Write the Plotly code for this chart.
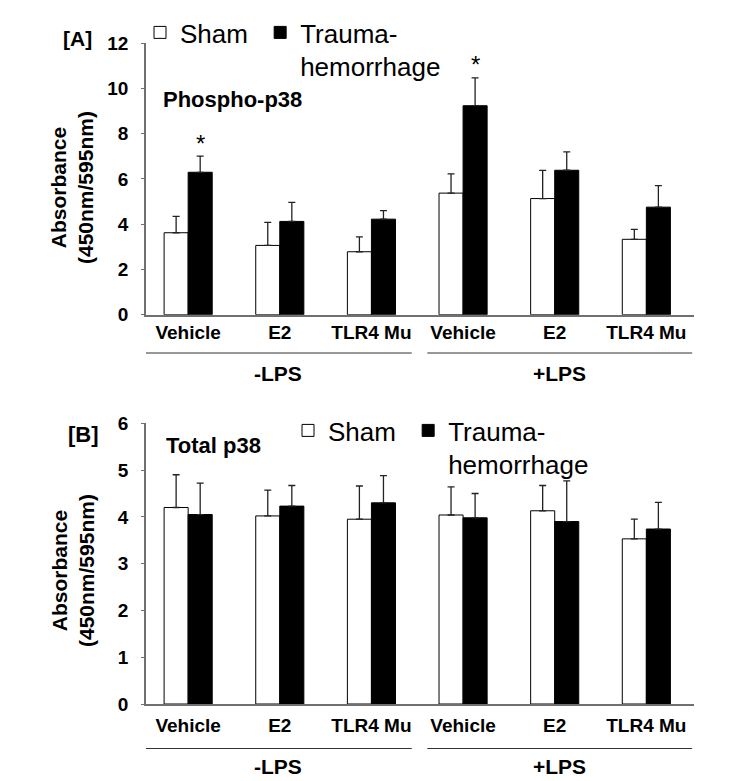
import plotly.graph_objects as go

# ---------------- data ----------------
categories = ["Vehicle", "E2", "TLR4 Mu", "Vehicle", "E2", "TLR4 Mu"]
groups = ["-LPS", "+LPS"]
series_names = ["Sham\u00a0", "Trauma-<br>hemorrhage"]

phospho_sham = [3.62, 3.06, 2.78, 5.37, 5.13, 3.33]
phospho_sham_err = [0.72, 1.02, 0.66, 0.85, 1.24, 0.44]
phospho_th = [6.29, 4.12, 4.22, 9.23, 6.38, 4.75]
phospho_th_err = [0.71, 0.84, 0.38, 1.23, 0.81, 0.95]
phospho_sig = [0, 3]  # indices marked with *

total_sham = [4.20, 4.02, 3.95, 4.04, 4.13, 3.53]
total_sham_err = [0.70, 0.55, 0.71, 0.60, 0.54, 0.42]
total_th = [4.05, 4.23, 4.30, 3.98, 3.90, 3.74]
total_th_err = [0.67, 0.44, 0.58, 0.52, 0.87, 0.57]

FONT = "Liberation Sans, Arial, sans-serif"
PAGE_W, PAGE_H = 749, 781
OFF = 8  # default body margin of the html page
W, H = PAGE_W - 2 * OFF, PAGE_H - OFF
AXIS_GRAY = "#707070"
BARGAP = 0.475

xs = list(range(len(categories)))


def px(x):
    return (x - OFF) / W


def py(y):
    return 1 - (y - OFF) / H


fig = go.Figure()


def add_bars(xaxis, yaxis, sham, sham_err, th, th_err, legend):
    fig.add_trace(go.Bar(
        x=xs, y=sham, name=series_names[0], xaxis=xaxis, yaxis=yaxis,
        marker=dict(color="white", line=dict(color="black", width=1)),
        error_y=dict(type="data", array=sham_err, arrayminus=[0] * len(sham),
                     symmetric=False, color="#222", thickness=1.3, width=3.5),
        legend=legend, offsetgroup="sham",
    ))
    fig.add_trace(go.Bar(
        x=xs, y=th, name=series_names[1], xaxis=xaxis, yaxis=yaxis,
        marker=dict(color="black", line=dict(color="black", width=1)),
        error_y=dict(type="data", array=th_err, arrayminus=[0] * len(th),
                     symmetric=False, color="#222", thickness=1.3, width=3.5),
        legend=legend, offsetgroup="th",
    ))


add_bars("x", "y", phospho_sham, phospho_sham_err, phospho_th, phospho_th_err, "legend")
add_bars("x2", "y2", total_sham, total_sham_err, total_th, total_th_err, "legend2")

xdom = [px(146), px(694)]
xrange_ = [-0.46, 5.52]
common_x = dict(
    domain=xdom, range=xrange_, tickmode="array", tickvals=xs, ticktext=categories,
    showline=True, linecolor=AXIS_GRAY, linewidth=1.5, ticks="", showgrid=False,
    zeroline=False, automargin=False,
    tickfont=dict(family=FONT, size=19, color="black", weight="bold"),
)
common_y = dict(
    showline=True, linecolor=AXIS_GRAY, linewidth=1.5, ticks="outside", ticklen=3,
    tickcolor=AXIS_GRAY, showgrid=False, zeroline=False, ticklabelstandoff=9,
    automargin=False,
    tickfont=dict(family=FONT, size=19, color="black", weight="bold"),
)

legend_common = dict(orientation="h", xanchor="left", yanchor="top", valign="top",
                     bgcolor="rgba(0,0,0,0)", itemclick=False, itemdoubleclick=False,
                     font=dict(family=FONT, size=26, color="black"))

fig.update_layout(
    template="none",
    width=W, height=H, margin=dict(l=0, r=0, t=0, b=0, autoexpand=False),
    paper_bgcolor="white", plot_bgcolor="white",
    barmode="group", bargap=BARGAP, bargroupgap=0,
    xaxis=dict(common_x, anchor="y", ticklabelstandoff=0),
    yaxis=dict(common_y, domain=[py(314.7), py(43)], range=[0, 12], dtick=2, anchor="x"),
    xaxis2=dict(common_x, anchor="y2", ticklabelstandoff=3),
    yaxis2=dict(common_y, domain=[py(704), py(423.3)], range=[0, 6], dtick=1, anchor="x2"),
    legend=dict(legend_common, x=px(140), y=py(9)),
    legend2=dict(legend_common, x=px(288), y=py(407)),
)

annotations = []


def txt(text, x, y, size, bold=True, xanchor="center", **kw):
    d = dict(text=text, x=x, y=y, xref=kw.pop("xref", "paper"), yref=kw.pop("yref", "paper"),
             xanchor=xanchor, yanchor="middle", showarrow=False,
             font=dict(family=FONT, size=size, color="black",
                       weight="bold" if bold else "normal"))
    d.update(kw)
    annotations.append(d)


# panel letters and titles
txt("[A]", px(77), py(39), 21)
txt("[B]", px(83), py(434.5), 22)
txt("Phospho-p38", px(161), py(99), 22, xanchor="left")
txt("Total p38", px(164), py(445), 22, xanchor="left")
# y titles
for cx, cy in [(72, 188), (73, 571)]:
    txt("Absorbance<br>(450nm/595nm)", px(cx), py(cy), 21, textangle=-90)
# significance markers
half_bar = (1 - BARGAP) / 4
for i in phospho_sig:
    txt("*", xs[i] + half_bar, phospho_th[i] + phospho_th_err[i] + 0.58, 24, bold=False,
        xref="x", yref="y")

# group brackets
shapes = []
group_spans = [(-0.49, 2.44), (2.61, 5.50)]
for (xa, ya_line, ya_txt) in [("x", py(353), py(373)), ("x2", py(748.5), py(766))]:
    for gname, (g0, g1) in zip(groups, group_spans):
        shapes.append(dict(type="line", xref=xa, yref="paper", x0=g0, x1=g1,
                           y0=ya_line, y1=ya_line, line=dict(color="#333", width=1.2)))
        txt(gname, (g0 + g1) / 2, ya_txt, 21, xref=xa)

fig.update_layout(annotations=annotations, shapes=shapes)
fig.write_html("out.html")
